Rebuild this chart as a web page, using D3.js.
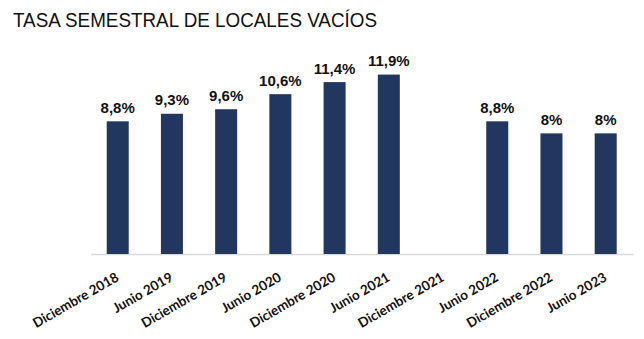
<!DOCTYPE html>
<html>
<head>
<meta charset="utf-8">
<script src="https://cdn.jsdelivr.net/npm/d3@7/dist/d3.min.js"></script>
<style>
  html, body { margin: 0; padding: 0; background: #ffffff; }
  svg { display: block; }
</style>
</head>
<body>
<svg id="chart" width="644" height="339"></svg>
<script>
const title = "TASA SEMESTRAL DE LOCALES VACÍOS";
const categories = ["Diciembre 2018", "Junio 2019", "Diciembre 2019", "Junio 2020", "Diciembre 2020",
                    "Junio 2021", "Diciembre 2021", "Junio 2022", "Diciembre 2022", "Junio 2023"];
const values = [8.8, 9.3, 9.6, 10.6, 11.4, 11.9, null, 8.8, 8, 8];

const svg = d3.select("#chart");
const margin = { left: 90.6, right: 11.2, top: 42.9, bottom: 85 };
const W = 644, H = 339;

const x = d3.scaleBand()
  .domain(categories)
  .range([margin.left, W - margin.right])
  .paddingInner(0.594)
  .paddingOuter(0.297);

const y = d3.scaleLinear()
  .domain([0, 14])
  .range([H - margin.bottom, margin.top]);

// title
svg.append("text")
  .attr("x", 13)
  .attr("y", 26.5)
  .attr("font-family", "Liberation Sans, Arial, sans-serif")
  .attr("font-size", 20.5)
  .attr("fill", "#111")
  .attr("textLength", 364)
  .attr("lengthAdjust", "spacingAndGlyphs")
  .text(title);

// axis line
const xAxis = d3.axisBottom(x).tickSize(0).tickFormat("");
const gx = svg.append("g")
  .attr("transform", `translate(0,${y(0)})`)
  .call(xAxis);
gx.select(".domain").attr("stroke", "#d9d9d9").attr("stroke-width", 1.5);

// axis labels
svg.append("g").selectAll("text")
  .data(categories)
  .join("text")
  .attr("transform", d => `translate(${x(d) + x.bandwidth() / 2 + 2},${y(0) + 26}) rotate(-30)`)
  .attr("text-anchor", "end")
  .attr("font-family", "Lato, 'Open Sans', sans-serif")
  .attr("font-weight", "bold")
  .attr("font-size", 13.5)
  .attr("fill", "#111")
  .text(d => d);

const data = categories.map((c, i) => ({ c, v: values[i] })).filter(d => d.v != null);

// bars
svg.append("g").selectAll("rect")
  .data(data)
  .join("rect")
  .attr("x", d => x(d.c))
  .attr("y", d => y(d.v))
  .attr("width", x.bandwidth())
  .attr("height", d => y(0) - y(d.v))
  .attr("fill", "#22375f");

// value labels
const fmt = v => String(v).replace(".", ",") + "%";
svg.append("g").selectAll("text")
  .data(data)
  .join("text")
  .attr("x", d => x(d.c) + x.bandwidth() / 2)
  .attr("y", d => y(d.v) - 8.5)
  .attr("text-anchor", "middle")
  .attr("font-family", "Liberation Sans, Arial, sans-serif")
  .attr("font-weight", "bold")
  .attr("font-size", 15)
  .attr("fill", "#111")
  .text(d => fmt(d.v));
</script>
</body>
</html>
